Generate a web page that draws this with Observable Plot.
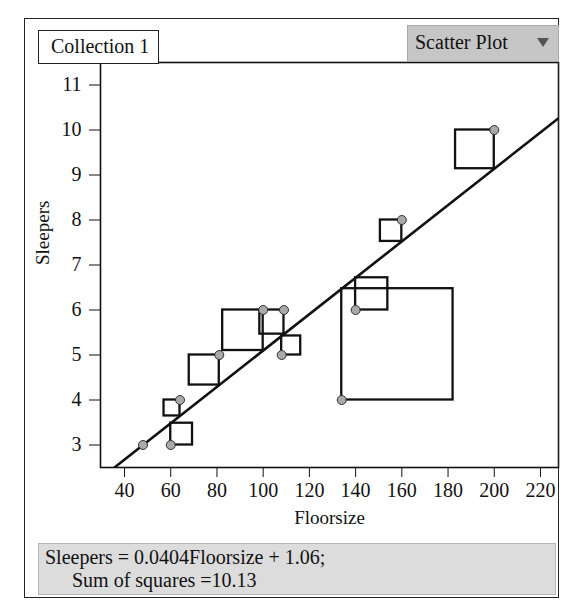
<!DOCTYPE html>
<html>
<head>
<meta charset="utf-8">
<script src="https://cdn.jsdelivr.net/npm/d3@7"></script>
<script src="https://cdn.jsdelivr.net/npm/@observablehq/plot@0.6"></script>
<style>
  body { margin: 0; background: #fff; font-family: "Liberation Serif", "DejaVu Serif", serif; color: #111; }
  #wrap { position: relative; width: 564px; height: 600px; overflow: hidden; background: #fff; }
  #wrap svg { position: absolute; left: 0; top: 0; }
  .box { position: absolute; box-sizing: border-box; }
  #outer { left: 24px; top: 18px; width: 535px; height: 580px; border: 1.5px solid #222; }
  #coll { left: 38px; top: 30px; width: 121px; height: 34px; border: 1.5px solid #222; background: #fff;
          font-size: 20px; line-height: 31px; padding-left: 12px; }
  #tab { left: 407px; top: 25px; width: 152px; height: 37px; background: #c6c6c6; border: 1px solid #aaa;
         font-size: 20px; line-height: 33px; padding-left: 7px; }
  #tab .menu { position: absolute; right: 9px; top: 12px; width: 0; height: 0;
               border-left: 6px solid transparent; border-right: 6px solid transparent; border-top: 9px solid #555; }
  #formula { left: 38px; top: 543px; width: 518px; height: 52px; background: #dcdcdc; border: 1px solid #b5b5b5;
             font-size: 20px; line-height: 23px; padding: 2px 0 0 6px; }
</style>
</head>
<body>
<div id="wrap"></div>
<script>
// ---- data ----
const floorsize = [48, 60, 64, 81, 100, 109, 108, 134, 140, 160, 200];
const sleepers  = [3, 3, 4, 5, 6, 6, 5, 4, 6, 8, 10];
const xTicks = [40, 60, 80, 100, 120, 140, 160, 180, 200, 220];
const yTicks = [3, 4, 5, 6, 7, 8, 9, 10, 11];
const slope = 0.0404;
const intercept = 1.06;
const sumOfSquares = "10.13";
const xLabel = "Floorsize";
const yLabel = "Sleepers";
const collectionName = "Collection 1";
const plotType = "Scatter Plot";

// ---- layout ----
const W = 564, H = 600;
const mL = 100, mR = 6, mT = 62, mB = 133;
const xDomain = [29.6, 227.8];
const yDomain = [2.5, 11.5];
const pxPerX = (W - mL - mR) / (xDomain[1] - xDomain[0]);
const pxPerY = (H - mT - mB) / (yDomain[1] - yDomain[0]);

const pts = floorsize.map((x, i) => {
  const y = sleepers[i];
  const fit = slope * x + intercept;
  const r = y - fit;
  const d = Math.abs(r) * pxPerY / pxPerX; // square side in x units
  return { x, y, fit, x1: r > 0 ? x - d : x, x2: r > 0 ? x : x + d };
});

const lineX0 = (yDomain[0] - intercept) / slope;
const linePts = [lineX0, xDomain[1]].map(x => ({ x, y: slope * x + intercept }));

const chart = Plot.plot({
  width: W, height: H,
  marginLeft: mL, marginRight: mR, marginTop: mT, marginBottom: mB,
  style: { fontFamily: "'Liberation Serif', 'DejaVu Serif', serif", fontSize: "20px", color: "#111", background: "transparent", overflow: "visible" },
  x: { domain: xDomain, ticks: xTicks, tickSize: 10, tickPadding: 5, label: null, tickFormat: d => String(d) },
  y: { domain: yDomain, ticks: yTicks, tickSize: 11, tickPadding: 8, label: null, tickFormat: d => String(d) },
  marks: [
    Plot.rect(pts, { x1: "x1", x2: "x2", y1: "y", y2: "fit", fill: "none", stroke: "#111", strokeWidth: 2.3 }),
    Plot.line(linePts, { x: "x", y: "y", stroke: "#111", strokeWidth: 2.6, clip: true }),
    Plot.dot(pts, { x: "x", y: "y", r: 4.5, fill: "#a9a9a9", stroke: "#333", strokeWidth: 1 }),
    Plot.frame({ stroke: "#111", strokeWidth: 1.6 }),
    Plot.text([xLabel], { frameAnchor: "bottom", dy: 56, fontSize: 19, fill: "#111" }),
    Plot.text([yLabel], { frameAnchor: "left", dx: -58, dy: 0, rotate: -90, fontSize: 19, fill: "#111" })
  ]
});

const wrap = document.getElementById("wrap");
wrap.appendChild(chart);

function addBox(id, html) {
  const d = document.createElement("div");
  d.className = "box";
  d.id = id;
  d.innerHTML = html;
  wrap.appendChild(d);
  return d;
}
addBox("outer", "");
addBox("coll", collectionName);
addBox("tab", plotType + '<span class="menu"></span>');
addBox("formula",
  `${yLabel} = ${slope}${xLabel} + ${intercept.toFixed(2)};<br>` +
  `<span style="padding-left:27px">Sum of squares =${sumOfSquares}</span>`);
</script>
</body>
</html>
